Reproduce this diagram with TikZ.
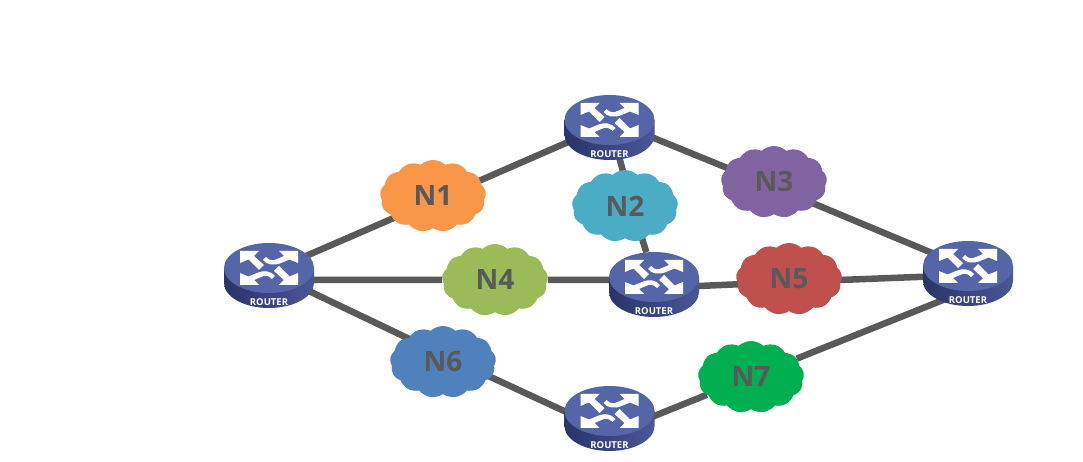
\documentclass[tikz,border=0pt]{standalone}
\usepackage{fontspec}
\setmainfont{Open Sans}
\usetikzlibrary{shapes.symbols,shapes.geometric,backgrounds}
\definecolor{lineagrigia}{HTML}{595959}
\definecolor{routertop}{HTML}{5566A8}
\definecolor{routerdark}{HTML}{2A3468}
\definecolor{routerlight}{HTML}{4A5798}
\definecolor{nubeuno}{HTML}{F99648}
\definecolor{nubedue}{HTML}{4BACC6}
\definecolor{nubetre}{HTML}{8064A2}
\definecolor{nubequattro}{HTML}{9BBB59}
\definecolor{nubecinque}{HTML}{C0504D}
\definecolor{nubesei}{HTML}{4F81BD}
\definecolor{nubesette}{HTML}{00B050}

\begin{document}
\begin{tikzpicture}[x=1pt,y=1pt]
	% Stili dei nodi e dei collegamenti
	\tikzset{
		nube/.style={cloud, cloud puffs=13, cloud puff arc=85, aspect=1.5, fill=#1, draw=none, inner sep=0pt,
			minimum width=106pt, minimum height=72pt, text=lineagrigia, font=\fontsize{28}{30}\selectfont\bfseries},
		router/.style={ellipse, minimum width=90pt, minimum height=50pt, inner sep=0pt},
		collega/.style={draw=lineagrigia, line width=6.5pt},
		pics/routericon/.style={code={
			\path[left color=routerdark, right color=routerlight]
				(-45,0) -- (-45,-15) arc[start angle=180, end angle=360, x radius=45, y radius=25] -- (45,0) -- cycle;
			\fill[routertop] (0,0) ellipse[x radius=45, y radius=25];
			\foreach \ang in {0,180} {
				\fill[white, rotate=\ang] (-29,17) -- (-10,17) -- (-15,12) -- (-5,3) -- (-10,-2) -- (-20.5,8.5) -- (-29,5) -- cycle;
				\fill[white, rotate=\ang] (29,17) -- (10,17) -- (15,12) -- (8,9) .. controls (4,7) and (1,7) .. (-3,11) -- (-6,8) .. controls (-2,3) and (5,2) .. (12,5) -- (20.5,8.5) -- (29,5) -- cycle;
			}
			\node[text=white, font=\fontsize{9.5}{10}\selectfont\bfseries] at (0,-34) {ROUTER};
		}}
	}
	\newcommand{\router}[2]{\node[router] (#1) at (#2) {}; \pic at (#1) {routericon};}
	\useasboundingbox (0,0) rectangle (1083,462);

	% Router
	\router{R1}{269,194}
	\router{R2}{609.5,342}
	\router{R3}{654,185}
	\router{R4}{968,196}
	\router{R5}{609.5,51}

	% Reti
	\node[nube=nubeuno] (N1) at (433,266) {N1};
	\node[nube=nubedue] (N2) at (625,256) {N2};
	\node[nube=nubetre] (N3) at (774,280) {N3};
	\node[nube=nubequattro] (N4) at (495,182) {N4};
	\node[nube=nubecinque] (N5) at (789,183) {N5};
	\node[nube=nubesei] (N6) at (443,100) {N6};
	\node[nube=nubesette] (N7) at (751,85) {N7};

	% Collegamenti
	\begin{scope}[on background layer]
		\draw[collega] ([yshift=-4pt]R1.center) -- ([yshift=-5pt]N1.center);
		\draw[collega] ([yshift=-5pt]N1.center) -- ([yshift=-4pt]R2.center);
		\draw[collega] (R2) -- ([xshift=7pt]N2.center);
		\draw[collega] ([xshift=7pt]N2.center) -- (R3);
		\draw[collega] (R2) -- ([yshift=-5pt]N3.center);
		\draw[collega] ([yshift=-5pt]N3.center) -- ([yshift=-2pt]R4.center);
		\draw[collega] (N4 -| R1) -- (N4);
		\draw[collega] (N4) -- (N4 -| R3);
		\draw[collega] ([yshift=-11pt]R3.center) -- ([yshift=-3pt]N5.center);
		\draw[collega] ([yshift=-3pt]N5.center) -- ([yshift=-9pt]R4.center);
		\draw[collega] ([yshift=-4pt]R1.center) -- ([yshift=7pt]N6.center);
		\draw[collega] ([yshift=7pt]N6.center) -- ([yshift=-21pt]R5.center);
		\draw[collega] ([yshift=-23pt]R5.center) -- (N7);
		\draw[collega] (N7) -- ([yshift=-24pt]R4.center);
	\end{scope}
\end{tikzpicture}
\end{document}
